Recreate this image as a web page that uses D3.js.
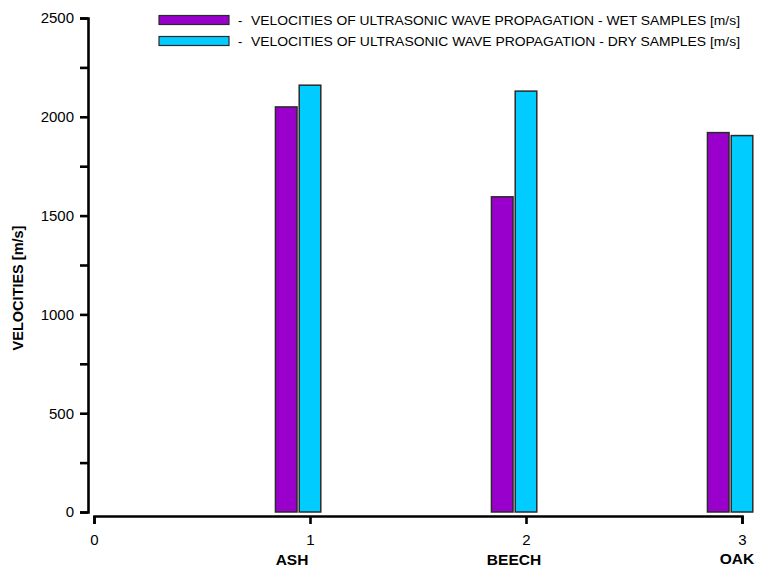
<!DOCTYPE html>
<html>
<head>
<meta charset="utf-8">
<script src="https://cdn.jsdelivr.net/npm/d3@7"></script>
<style>
  html, body { margin: 0; padding: 0; background: #fff; }
  svg { display: block; font-family: "Liberation Sans", Arial, sans-serif; }
</style>
</head>
<body>
<svg id="chart" width="758" height="569"></svg>
<script>
// Wood species and their positions on the numeric x axis
const species = ["ASH", "BEECH", "OAK"];
const positions = [1, 2, 3];
// Ultrasonic wave propagation velocities [m/s]
const wetVelocities = [2050, 1595, 1920];
const dryVelocities = [2160, 2130, 1905];
const seriesNames = [
  "VELOCITIES OF ULTRASONIC WAVE PROPAGATION - WET SAMPLES [m/s]",
  "VELOCITIES OF ULTRASONIC WAVE PROPAGATION - DRY SAMPLES [m/s]"
];
const seriesColors = ["#9900CC", "#00CCFF"];
const yTicks = [0, 500, 1000, 1500, 2000, 2500];
const yMinorTicks = [250, 750, 1250, 1750, 2250];
const xTicks = [0, 1, 2, 3];

const svg = d3.select("#chart");

const x = d3.scaleLinear().domain([0, 3]).range([94, 742]);
const y = d3.scaleLinear().domain([0, 2500]).range([512, 18]);
const barW = 0.1;      // bar width in x units
const wetShift = -0.11; // wet bar sits just left of the tick

// Bars
const series = [wetVelocities, dryVelocities];
series.forEach((vals, s) => {
  svg.append("g").selectAll("rect")
    .data(vals)
    .join("rect")
    .attr("x", (d, i) => x(positions[i] + (s === 0 ? wetShift : 0) - barW / 2))
    .attr("width", x(barW) - x(0))
    .attr("y", d => y(d))
    .attr("height", d => y(0) - y(d))
    .attr("fill", seriesColors[s])
    .attr("stroke", "#2a2a2a")
    .attr("stroke-width", 1.5);
});

// Y axis
const yAxis = svg.append("g")
  .attr("transform", "translate(88,0)")
  .call(d3.axisLeft(y).tickValues(yTicks.concat(yMinorTicks)).tickSize(8).tickPadding(6)
    .tickFormat(d => yTicks.includes(d) ? d : ""));
yAxis.select(".domain").attr("stroke-width", 2.6);
yAxis.selectAll(".tick line").attr("stroke-width", 2.6);
yAxis.selectAll("text").attr("font-size", 15).attr("fill", "#000")
  .attr("font-family", "Liberation Sans, Arial, sans-serif");

// X axis
const xAxis = svg.append("g")
  .attr("transform", "translate(0,516)")
  .call(d3.axisBottom(x).tickValues(xTicks).tickSize(8).tickPadding(10).tickFormat(d3.format("d")));
xAxis.select(".domain").attr("stroke-width", 2.6);
xAxis.selectAll(".tick line").attr("stroke-width", 2.6);
xAxis.selectAll("text").attr("font-size", 15).attr("fill", "#000")
  .attr("font-family", "Liberation Sans, Arial, sans-serif");

// Species names under the bar pairs
const labelDx = [-18, -12, -5];
const labelY = [565, 565, 564];
svg.append("g").selectAll("text")
  .data(species)
  .join("text")
  .attr("x", (d, i) => x(positions[i]) + labelDx[i])
  .attr("y", (d, i) => labelY[i])
  .attr("text-anchor", "middle")
  .attr("font-size", 15.5)
  .attr("font-weight", "bold")
  .text(d => d);

// Y axis title
svg.append("text")
  .attr("transform", "translate(23,288) rotate(-90)")
  .attr("text-anchor", "middle")
  .attr("font-size", 14.5)
  .attr("font-weight", "bold")
  .text("VELOCITIES [m/s]");

// Legend
const legend = svg.append("g");
seriesNames.forEach((name, i) => {
  const cy = 20 + i * 21;
  legend.append("rect")
    .attr("x", 159).attr("y", cy - 4.5)
    .attr("width", 70).attr("height", 9)
    .attr("fill", seriesColors[i])
    .attr("stroke", "#2a2a2a").attr("stroke-width", 1.2);
  legend.append("text")
    .attr("x", 238).attr("y", cy + 5)
    .attr("font-size", 13)
    .text("-");
  legend.append("text")
    .attr("x", 251).attr("y", cy + 5)
    .attr("font-size", 13)
    .attr("textLength", 489)
    .attr("lengthAdjust", "spacingAndGlyphs")
    .text(name);
});
</script>
</body>
</html>
